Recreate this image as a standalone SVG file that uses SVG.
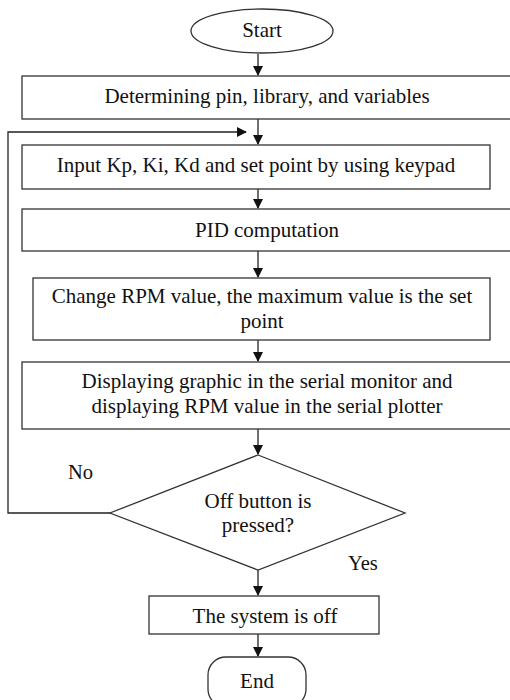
<svg xmlns="http://www.w3.org/2000/svg" width="510" height="700" viewBox="0 0 510 700">
<style>
.s{fill:#fff;stroke:#333;stroke-width:1.3}
.t{font-family:"Liberation Serif","Times New Roman",serif;font-size:21px;fill:#111;text-anchor:middle}
.l{font-family:"Liberation Serif","Times New Roman",serif;font-size:20.5px;fill:#111}
.c{fill:none;stroke:#222;stroke-width:1.3}
</style>
<defs>
<marker id="a" markerWidth="10" markerHeight="10" refX="9" refY="5" orient="auto" markerUnits="userSpaceOnUse">
<path d="M0,0 L10,5 L0,10 Z" fill="#111"/>
</marker>
</defs>
<rect width="510" height="700" fill="#fff"/>
<g id="connectors">
<line class="c" x1="258" y1="54" x2="258" y2="75" marker-end="url(#a)"/>
<line class="c" x1="258" y1="119" x2="258" y2="144" marker-end="url(#a)"/>
<line class="c" x1="258" y1="189" x2="258" y2="208" marker-end="url(#a)"/>
<line class="c" x1="258" y1="251" x2="258" y2="277" marker-end="url(#a)"/>
<line class="c" x1="258" y1="340" x2="258" y2="361" marker-end="url(#a)"/>
<line class="c" x1="258" y1="429" x2="258" y2="454" marker-end="url(#a)"/>
<line class="c" x1="258" y1="570" x2="258" y2="595" marker-end="url(#a)"/>
<line class="c" x1="258" y1="634" x2="258" y2="656" marker-end="url(#a)"/>
<polyline class="c" points="110,513 8,513 8,132 246,132" marker-end="url(#a)"/>
</g>
<g id="start"><ellipse class="s" cx="262" cy="31" rx="71" ry="22"/><text class="t" x="262" y="37">Start</text></g>
<g id="init"><rect class="s" x="22" y="76" width="500" height="43"/><text class="t" x="267" y="103">Determining pin, library, and variables</text></g>
<g id="input"><rect class="s" x="22" y="145" width="468" height="44"/><text class="t" x="256" y="172">Input Kp, Ki, Kd and set point by using keypad</text></g>
<g id="pid"><rect class="s" x="22" y="209" width="500" height="42"/><text class="t" x="267" y="237">PID computation</text></g>
<g id="rpm"><rect class="s" x="33" y="278" width="457" height="62"/><text class="t" x="262" y="303">Change RPM value, the maximum value is the set</text><text class="t" x="262" y="328">point</text></g>
<g id="display"><rect class="s" x="22" y="362" width="500" height="67"/><text class="t" x="267" y="388">Displaying graphic in the serial monitor and</text><text class="t" x="267" y="413">displaying RPM value in the serial plotter</text></g>
<g id="decision"><polygon class="s" points="258,455 405,513 258,570 110,513"/><text class="t" x="258" y="508">Off button is</text><text class="t" x="258" y="532">pressed?</text></g>
<g id="off"><rect class="s" x="149" y="596" width="230" height="38"/><text class="t" x="265" y="623">The system is off</text></g>
<g id="end"><rect class="s" x="208" y="657" width="98" height="50" rx="18"/><text class="t" x="257" y="688">End</text></g>
<text class="l" x="68" y="479">No</text>
<text class="l" x="348" y="570">Yes</text>
</svg>
